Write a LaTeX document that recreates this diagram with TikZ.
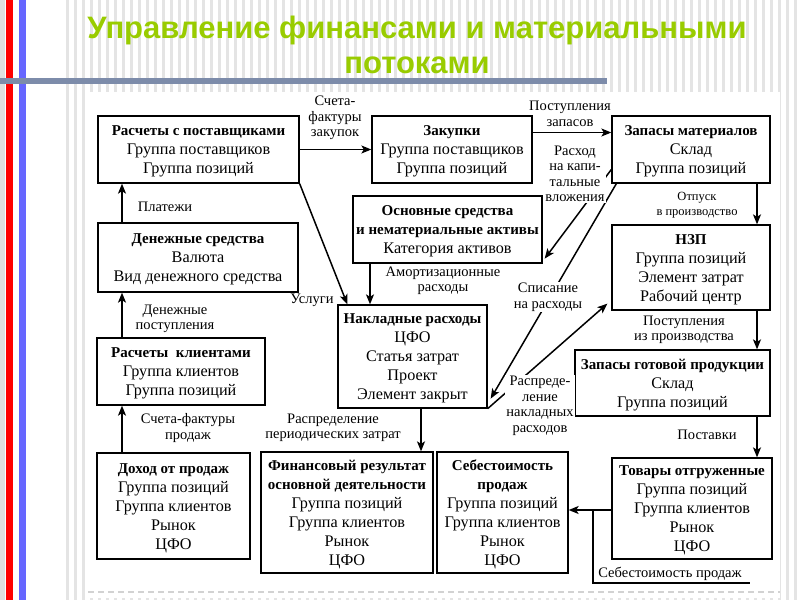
\documentclass[tikz,border=0pt]{standalone}
\usepackage{fontspec}
\setmainfont{Liberation Serif}
\newfontfamily\titlefont{Liberation Sans}
\usetikzlibrary{arrows.meta,fit,calc}
\definecolor{titlegreen}{RGB}{153,204,0}
\definecolor{barred}{RGB}{255,0,0}
\definecolor{barblue}{RGB}{102,102,255}
\definecolor{stripecol}{RGB}{228,228,228}
\definecolor{hlinecol}{RGB}{125,140,170}
\newcommand\bhead[1]{{\fontsize{15}{19}\selectfont\bfseries #1}}
\begin{document}
\begin{tikzpicture}[x=1pt,y=-1pt,
 box/.style={draw=black, line width=1.3pt, inner sep=0pt},
 btxt/.style={align=center, inner sep=0pt, yshift=-2pt, font=\fontsize{16.2}{19}\selectfont},
 lbl/.style={align=center, font=\fontsize{14.5}{15.5}\selectfont, inner sep=1pt},
 wlbl/.style={lbl, fill=white},
 arr/.style={line width=1.5pt, -{Stealth[length=10pt,width=8pt,inset=2.5pt]}},
 ln/.style={line width=1.3pt}
]
\useasboundingbox (0,0) rectangle (800,600);
% background
\fill[white] (0,0) rectangle (800,600);
\fill[gray!25] (0,0) rectangle (5,600);
\fill[barred] (6,0) rectangle (13,600);
\fill[barblue] (19,0) rectangle (26,600);
\foreach \i in {0,...,91} {\fill[stripecol] (66+\i*8,0) rectangle (69+\i*8,600);}
\fill[white] (88,92) rectangle (780,598);
\draw[gray!35, line width=1.5pt, dash pattern=on 6pt off 4pt] (88,592) -- (780,592);
\fill[hlinecol] (0,78) rectangle (607,84);
% title
\node[font=\titlefont\bfseries\fontsize{31}{35}\selectfont, text=titlegreen, align=center] (title) at (417,45) {Управление финансами и материальными\\потоками};
% boxes
\node[box, fit={(98,116)(299,183)}] (rp) {};
\node[btxt] (rp-t) at (rp.center) {\bhead{Расчеты с поставщиками}\\Группа поставщиков\\Группа позиций};
\node[box, fit={(372,116)(532,183)}] (zk) {};
\node[btxt] (zk-t) at (zk.center) {\bhead{Закупки}\\Группа поставщиков\\Группа позиций};
\node[box, fit={(612,116)(770,183)}] (zm) {};
\node[btxt] (zm-t) at (zm.center) {\bhead{Запасы материалов}\\Склад\\Группа позиций};
\node[box, fit={(353,196)(542,263)}] (os) {};
\node[btxt] (os-t) at (os.center) {\bhead{Основные средства}\\\bhead{и нематериальные активы}\\Категория активов};
\node[box, fit={(98,223)(298,292)}] (ds) {};
\node[btxt] (ds-t) at (ds.center) {\bhead{Денежные средства}\\Валюта\\Вид денежного средства};
\node[box, fit={(612,225)(770,310)}] (nzp) {};
\node[btxt] (nzp-t) at (nzp.center) {\bhead{НЗП}\\Группа позиций\\Элемент затрат\\Рабочий центр};
\node[box, fit={(338,305)(487,408)}] (nr) {};
\node[btxt] (nr-t) at (nr.center) {\bhead{Накладные расходы}\\ЦФО\\Статья затрат\\Проект\\Элемент закрыт};
\node[box, fit={(97,338)(265,405)}] (rk) {};
\node[btxt] (rk-t) at (rk.center) {\bhead{Расчеты\ \ клиентами}\\Группа клиентов\\Группа позиций};
\node[box, fit={(575,350)(770,416)}] (zgp) {};
\node[btxt] (zgp-t) at (zgp.center) {\bhead{Запасы готовой продукции}\\Склад\\Группа позиций};
\node[box, fit={(97,453)(250,559)}] (dp) {};
\node[btxt] (dp-t) at (dp.center) {\bhead{Доход от продаж}\\Группа позиций\\Группа клиентов\\Рынок\\ЦФО};
\node[box, fit={(261,452)(433,573)}] (fr) {};
\node[btxt] (fr-t) at (fr.center) {\bhead{Финансовый результат}\\\bhead{основной деятельности}\\Группа позиций\\Группа клиентов\\Рынок\\ЦФО};
\node[box, fit={(437,452)(568,573)}] (ss) {};
\node[btxt] (ss-t) at (ss.center) {\bhead{Себестоимость}\\\bhead{продаж}\\Группа позиций\\Группа клиентов\\Рынок\\ЦФО};
\node[box, fit={(612,458)(772,559)}] (to) {};
\node[btxt] (to-t) at (to.center) {\bhead{Товары отгруженные}\\Группа позиций\\Группа клиентов\\Рынок\\ЦФО};
% helper coordinates
\coordinate (colL) at (122,0);
\coordinate (colR) at (757,0);
\coordinate (colN) at (421,0);
\coordinate (colO) at (370,0);
\coordinate (junc) at (593,510);
\coordinate (ulend) at (750,583);
% connectors
\draw[arr] (rp) -- (zk);
\draw[arr] ([yshift=17pt]zk.east) -- ([yshift=17pt]zm.west);
\draw[arr] (zm.south -| colR) -- (nzp.north -| colR);
\draw[arr] (nzp.south -| colR) -- (zgp.north -| colR);
\draw[arr] (zgp.south -| colR) -- (to.north -| colR);
\draw[arr] (to.west |- junc) -- (ss.east |- junc);
\draw[ln] (junc) |- (ulend);
\draw[arr] (rk.north -| colL) -- (ds.south -| colL);
\draw[arr] (ds.north -| colL) -- (rp.south -| colL);
\draw[arr] (dp.north -| colL) -- (rk.south -| colL);
\draw[arr] (rp.south east) -- ([xshift=10pt]nr.north west);
\draw[arr] (os.south -| colO) -- (nr.north -| colO);
\draw[arr] (nr.south -| colN) -- (fr.north -| colN);
\draw[arr] ([yshift=-20pt]zm.west) -- ([shift={(2pt,5pt)}]os.south east);
\draw[arr] ([xshift=5pt]zm.south west) -- ([shift={(3pt,10pt)}]nr.south east);
\draw[arr] (nr.south east) -- ([shift={(-4pt,7pt)}]nzp.south west);
% labels
\node[lbl] (l1) at (335,118) {Счета-\\фактуры\\закупок};
\node[lbl] (l2) at (570,114) {Поступления\\запасов};
\node[wlbl] (l3) at (575,174) {Расход\\на капи-\\тальные\\вложения};
\node[lbl, font=\fontsize{12.5}{15}\selectfont] (l4) at (697,205) {Отпуск\\в производство};
\node[lbl] (l5) at (443,281) {Амортизационные\\расходы};
\node[wlbl] (l6) at (548,297) {Списание\\на расходы};
\node[lbl] (l7) at (312,300) {Услуги};
\node[lbl] (l8) at (165,207) {Платежи};
\node[lbl] (l9) at (175,319) {Денежные\\поступления};
\node[lbl] (l10) at (188,428) {Счета-фактуры\\продаж};
\node[lbl] (l11) at (333,428) {Распределение\\периодических затрат};
\node[lbl] (l12) at (684,330) {Поступления\\из производства};
\node[wlbl] (l13) at (540,406) {Распреде-\\ление\\накладных\\расходов};
\node[lbl] (l14) at (707,435) {Поставки};
\node[lbl, anchor=south] (l15) at (670,582) {Себестоимость продаж};
\end{tikzpicture}
\end{document}
